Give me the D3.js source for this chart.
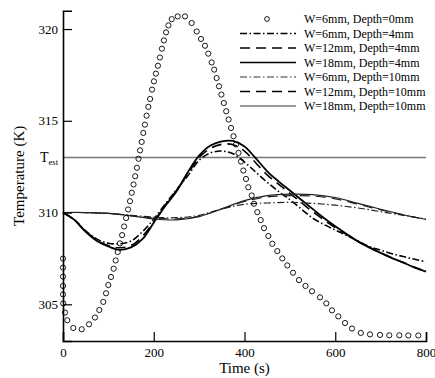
<!DOCTYPE html>
<html>
  <head>
    <meta charset="utf-8">
    <title>Temperature vs time</title>
    <script src="https://cdn.jsdelivr.net/npm/d3@7"></script>
    <style>
      body { margin:0; background:#fff; }
      svg text { font-family: "Liberation Serif", serif !important; }
    </style>
  </head>
  <body>
    <svg></svg>
    <script>
    var width = 435,
        height = 378;
    var serif = "Liberation Serif";

    // W=6mm, Depth=0mm (symbols)
    var circleTime = [0,0,0,0,0,0.5,4.4,9.5,22.7,41.2,57.3,70.5,80,88.8,94.8,99.8,105.8,111.7,116.1,120.6,
        125.6,130.3,134.7,139.1,143.5,147.7,151.6,155.4,159.1,162.9,166.4,169.9,173.4,177,180.5,184.3,188,
        192,196.2,200.4,204.8,209.2,213.6,218,222.4,227.1,232.4,239.6,252.8,268.9,283.6,294.7,304.1,313,
        320.2,327.7,333.2,338.5,343.8,349.1,354.4,359.7,365,370.3,375.8,381.3,386.8,392.3,397.4,403.3,408.4,
        415.9,420.9,428.2,435.7,443,452.5,461.3,472.3,483.3,494.3,506.9,520.1,534.4,548.8,566.4,580.3,592.8,
        606.7,621.5,636.9,656.3,676.6,698.6,719.1,741.2,761,783];
    var circleTemp = [307.49,307.0,306.51,306.0,305.54,305.05,304.55,304.13,303.71,303.64,303.91,304.28,304.69,
        305.13,305.6,306.05,306.49,306.94,307.39,307.85,308.32,308.77,309.24,309.7,310.17,310.62,311.08,311.53,
        311.98,312.44,312.93,313.39,313.85,314.34,314.79,315.28,315.76,316.19,316.7,317.15,317.57,318.0,318.45,
        318.93,319.38,319.82,320.2,320.54,320.69,320.69,320.33,319.87,319.46,319.09,318.66,318.18,317.79,317.33,
        316.88,316.43,315.97,315.52,315.07,314.61,314.16,313.71,313.25,312.78,312.29,311.83,311.38,310.93,310.48,
        310.02,309.59,309.15,308.72,308.3,307.9,307.5,307.12,306.72,306.32,306.0,305.71,305.38,305.05,304.67,
        304.34,303.98,303.68,303.44,303.36,303.33,303.31,303.31,303.3,303.3];

    var lineTime = [0,25,50,75,100,125,150,175,200,225,250,275,300,325,350,375,400,425,450,475,500,
        525,550,575,600,625,650,675,700,725,750,775,800];
    var w6d4  = [310.0,309.6,309.0,308.55,308.33,308.3,308.45,308.95,309.65,310.45,311.25,312.0,312.85,313.25,
        313.35,313.2,312.75,312.2,311.65,311.15,310.7,310.2,309.7,309.35,309.05,308.75,308.45,308.15,307.95,
        307.75,307.6,307.45,307.32];
    var w12d4 = [310.0,309.6,308.97,308.5,308.2,308.08,308.2,308.7,309.5,310.4,311.2,312.1,313.0,313.5,313.72,
        313.7,313.35,312.7,312.05,311.55,311.05,310.55,310.05,309.6,309.18,308.8,308.43,308.1,307.8,307.53,
        307.28,307.02,306.8];
    var w18d4 = [310.0,309.6,308.95,308.45,308.15,307.97,308.1,308.55,309.45,310.35,311.15,312.2,313.1,313.65,
        313.88,313.9,313.6,312.95,312.25,311.7,311.2,310.7,310.2,309.7,309.25,308.83,308.43,308.1,307.8,307.52,
        307.27,307.0,306.78];

    var longTime = [0,50,100,150,200,250,300,350,400,450,500,550,600,650,700,750,800];
    var w6d10  = [310.0,310.0,309.95,309.85,309.75,309.72,309.85,310.2,310.45,310.52,310.55,310.5,310.4,310.25,
        310.05,309.85,309.65];
    var w12d10 = [310.0,310.0,309.95,309.83,309.7,309.65,309.8,310.2,310.6,310.85,310.92,310.9,310.75,310.45,
        310.15,309.87,309.62];
    var w18d10 = [310.0,310.0,309.95,309.82,309.65,309.6,309.78,310.2,310.65,310.92,311.0,310.98,310.82,310.5,
        310.18,309.88,309.62];

    var legendNames = ["W=6mm, Depth=0mm","W=6mm, Depth=4mm","W=12mm, Depth=4mm","W=18mm, Depth=4mm",
        "W=6mm, Depth=10mm","W=12mm, Depth=10mm","W=18mm, Depth=10mm"];
    var xTicks = [0,200,400,600,800];
    var yTicks = [305,310,315,320];
    var tEst = 313;

    var svg = d3.select("svg").attr("width", width).attr("height", height)
      .attr("font-family", serif);

    var x = d3.scaleLinear().domain([0,800]).range([63,426]);
    var y = d3.scaleLinear().domain([303,321]).range([341,10.7]);

    var dashDot = "7,2.5,1.5,2.5",
        dashed = "10,6";
    var series = [
      {t: lineTime, v: w6d4,  color:"#000", dash:dashDot, w:1.6},
      {t: lineTime, v: w12d4, color:"#000", dash:dashed,  w:1.6},
      {t: lineTime, v: w18d4, color:"#000", dash:null,    w:1.8},
      {t: longTime, v: w6d10,  color:"#222", dash:dashDot, w:1.2},
      {t: longTime, v: w12d10, color:"#222", dash:dashed,  w:1.2},
      {t: longTime, v: w18d10, color:"#222", dash:null,    w:1.2}
    ];
    var legendColor = ["#000","#000","#000","#777","#000","#777"];

    var line = d3.line().curve(d3.curveCatmullRom);

    // T_est line
    svg.append("line")
      .attr("x1", x(0)).attr("x2", x(800))
      .attr("y1", y(tEst)).attr("y2", y(tEst))
      .attr("stroke", "#777").attr("stroke-width", 1.5);

    series.forEach(function(s) {
      svg.append("path")
        .attr("d", line(s.t.map(function(d, i) { return [x(d), y(s.v[i])]; })))
        .attr("fill", "none")
        .attr("stroke", s.color)
        .attr("stroke-width", s.w)
        .attr("stroke-dasharray", s.dash);
    });

    svg.selectAll("circle.pt")
      .data(circleTime)
      .enter().append("circle")
      .attr("class", "pt")
      .attr("cx", function(d) { return x(d); })
      .attr("cy", function(d, i) { return y(circleTemp[i]); })
      .attr("r", 2.6)
      .attr("fill", "none")
      .attr("stroke", "#000")
      .attr("stroke-width", 0.9);

    // axes, ticks pointing inward
    var gx = svg.append("g").attr("transform", "translate(0," + y(303) + ")");
    gx.call(d3.axisBottom(x).tickValues(d3.range(0, 801, 50)).tickSize(-5).tickFormat(""));
    gx.call(d3.axisBottom(x).tickValues(xTicks).tickSize(-9).tickPadding(5));
    gx.selectAll("text").attr("font-size", 13).attr("dy", "0.85em");

    var gy = svg.append("g").attr("transform", "translate(" + x(0) + ",0)");
    gy.call(d3.axisLeft(y).tickValues(d3.range(303, 321.5, 1)).tickSize(-5).tickFormat(""));
    gy.call(d3.axisLeft(y).tickValues(yTicks).tickSize(-9).tickPadding(5));
    gy.selectAll("text").attr("font-size", 13);

    gx.attr("font-family", serif);
    gy.attr("font-family", serif);
    svg.selectAll(".domain").attr("stroke-width", 1.6);
    svg.selectAll(".tick line").attr("stroke-width", 1.2);

    var te = svg.append("text").attr("x", 40).attr("y", y(tEst) + 4).attr("font-size", 14);
    te.append("tspan").text("T");
    te.append("tspan").attr("font-size", 8.5).attr("dy", 3).text("est");

    svg.append("text")
      .attr("x", (x(0) + x(800)) / 2).attr("y", 373)
      .attr("text-anchor", "middle").attr("font-size", 15)
      .text("Time (s)");
    svg.append("text")
      .attr("transform", "translate(24," + ((y(303) + y(321)) / 2) + ") rotate(-90)")
      .attr("text-anchor", "middle").attr("font-size", 15)
      .text("Temperature (K)");

    // legend
    var leg = svg.append("g");
    legendNames.forEach(function(name, i) {
      var ly = 19 + i * 14.5;
      if (i == 0) {
        leg.append("circle").attr("cx", 267).attr("cy", ly).attr("r", 2.4)
          .attr("fill", "none").attr("stroke", "#000").attr("stroke-width", 0.9);
      } else {
        var s = series[i - 1];
        leg.append("line").attr("x1", 240).attr("x2", 296).attr("y1", ly).attr("y2", ly)
          .attr("stroke", legendColor[i - 1]).attr("stroke-width", 1.4)
          .attr("stroke-dasharray", s.dash);
      }
      leg.append("text").attr("x", 304).attr("y", ly + 4).attr("font-size", 12).text(name);
    });
    </script>
  </body>
</html>
